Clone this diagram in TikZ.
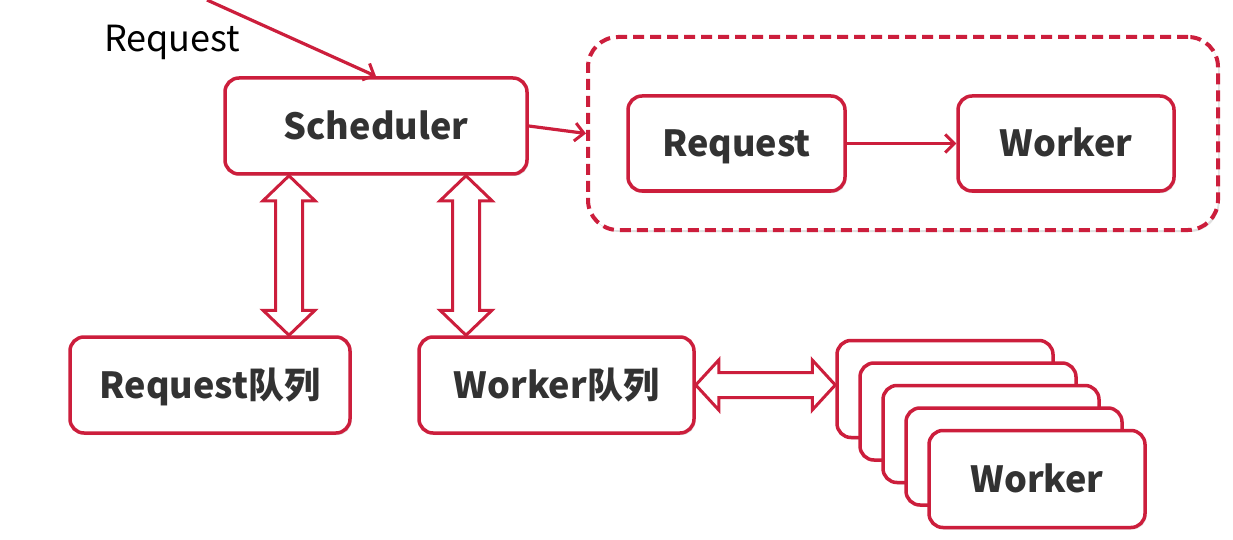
\documentclass[tikz,border=0pt]{standalone}
\usepackage{fontspec}
\setmainfont{Noto Sans CJK SC}
\usetikzlibrary{arrows.meta,calc,shadows}
\definecolor{myred}{RGB}{204,30,60}
\definecolor{txt}{RGB}{50,50,50}
\tikzset{
  box/.style={draw=myred, line width=3.5pt, rounded corners=14pt, fill=white, text=txt,
    font=\bfseries\fontsize{36}{40}\selectfont, inner sep=0pt, text height=26.4pt, text depth=0pt,
    drop shadow={opacity=0.22, shadow xshift=1.5pt, shadow yshift=-2pt}},
  container/.style={draw=myred, line width=4pt, rounded corners=30pt, fill=white,
    dash pattern=on 11pt off 6pt, inner sep=0pt,
    drop shadow={opacity=0.25, shadow xshift=1.5pt, shadow yshift=-2pt}},
  link/.style={draw=myred, line width=3.2pt, -{Straight Barb[length=9pt,width=18pt,line width=3pt]}},
  dbl/.style={draw=myred, line width=3pt, fill=white, line join=miter}
}
\begin{document}
\begin{tikzpicture}[x=1pt,y=-1pt]
\useasboundingbox[fill=white] (0,0) rectangle (1233,540);

% top-left label
\node[anchor=base west, inner sep=0pt, font=\fontsize{36}{40}\selectfont, text=black] (reqlabel) at (104,52) {Request};
\coordinate (incoming) at (207,0);

% scheduler
\node[box, minimum width=302pt, minimum height=96pt] (sched) at (376,126) {Scheduler};

% container with request -> worker
\node[container, minimum width=630pt, minimum height=193pt] (cont) at (903,133.5) {};
\node[box, minimum width=217pt, minimum height=95pt] (req) at (736.5,143.5) {Request};
\node[box, minimum width=216pt, minimum height=95pt] (wrk) at (1066,143.5) {Worker};

% queues
\node[box, minimum width=280pt, minimum height=96pt] (rq) at (210,385) {Request队列};
\node[box, minimum width=275pt, minimum height=96pt] (wq) at (556.5,385) {Worker队列};

% stack of workers
\node[box, minimum width=216pt, minimum height=97pt] (w1) at (945,389) {};
\node[box, minimum width=216pt, minimum height=97pt] (w2) at (968,411.5) {};
\node[box, minimum width=216pt, minimum height=97pt] (w3) at (991,434) {};
\node[box, minimum width=216pt, minimum height=97pt] (w4) at (1014,456.5) {};
\node[box, minimum width=216pt, minimum height=97pt] (w5) at (1037,479) {Worker};

% single arrows
\draw[link] (incoming) -- (sched.north);
\draw[link] (sched.east) -- (cont.west);
\draw[link] (req.east) -- (wrk.west);

% vertical double arrows
\coordinate (a1) at ($(sched.south)+(-87,0)$);
\coordinate (b1) at (a1 |- rq.north);
\coordinate (a2) at ($(sched.south)+(90,0)$);
\coordinate (b2) at (a2 |- wq.north);
\foreach \A/\B in {a1/b1,a2/b2}{
  \draw[dbl] (\A) -- ++(26,25) -- ++(-12.5,0) -- ($(\B)+(13.5,-25)$) -- ++(12.5,0) -- (\B)
    -- ++(-26,-25) -- ++(12.5,0) -- ($(\A)+(-13.5,25)$) -- ++(-12.5,0) -- cycle;
}

% horizontal double arrow
\coordinate (h1) at (wq.east);
\coordinate (h2) at (w1.west |- wq.east);
\draw[dbl] (h1) -- ++(23,-25) -- ++(0,12.5) -- ($(h2)+(-23,-12.5)$) -- ++(0,-12.5) -- (h2)
  -- ++(-23,25) -- ++(0,-12.5) -- ($(h1)+(23,12.5)$) -- ++(0,12.5) -- cycle;
\end{tikzpicture}
\end{document}
